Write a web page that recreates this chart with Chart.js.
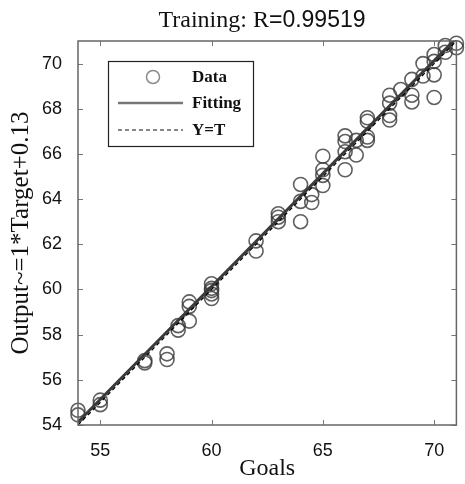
<!DOCTYPE html>
<html>
<head>
<meta charset="utf-8">
<script src="https://cdn.jsdelivr.net/npm/chart.js@4.4.1/dist/chart.umd.min.js"></script>
<style>
  html, body { margin: 0; padding: 0; background: #fff; }
  #wrap { width: 465px; height: 484px; position: relative; }
</style>
</head>
<body>
<div id="wrap"><canvas id="regChart"></canvas></div>
<script>
// Training targets vs network outputs
const targets = [
    54, 54, 55, 55, 57, 57, 58, 58, 58.5, 58.5,
    59, 59, 59, 60, 60, 60, 60, 60, 62, 62,
    63, 63, 63, 64, 64, 64, 64.5, 64.5, 65, 65,
    65, 65, 66, 66, 66, 66, 66.5, 66.5, 67, 67,
    67, 67, 68, 68, 68, 68, 68.5, 69, 69, 69,
    69.5, 69.5, 70, 70, 70, 70, 70.5, 70.5, 71, 71
];
const outputs = [
    54.65, 54.45, 55.1, 54.9, 56.85, 56.75, 57.15, 56.9, 58.2, 58.4,
    59.45, 59.25, 58.6, 60.25, 60.05, 59.95, 59.8, 59.6, 62.15, 61.7,
    63.35, 63.2, 63.0, 64.65, 63.9, 63.0, 63.85, 64.2, 65.9, 65.3,
    64.6, 65.05, 66.8, 66.55, 66.1, 65.3, 65.95, 66.6, 67.6, 67.45,
    66.6, 66.75, 68.6, 68.25, 67.5, 67.7, 68.85, 69.3, 68.6, 68.3,
    70.0, 69.45, 70.4, 70.1, 69.5, 68.5, 70.8, 70.5, 70.7, 70.9
];
// fitted line Output ~= 1*Target + 0.13, and the Y=T reference line
const fitX = [54, 71];
const fitY = [54.13, 71.13];
const idX = [54, 71];
const idY = [54, 71];

const xTicks = [55, 60, 65, 70];
const yTicks = [54, 56, 58, 60, 62, 64, 66, 68, 70];

const titleSerif = "Training: R";
const titleSans = "=0.99519";

const toPoints = (xs, ys) => xs.map((x, i) => ({ x: x, y: ys[i] }));

// title in two fonts, like the original figure
const titlePlugin = {
    id: "mixedTitle",
    afterDraw(chart) {
        const ctx = chart.ctx;
        ctx.save();
        const f1 = "24px 'Liberation Serif', 'Times New Roman', serif";
        const f2 = "23px 'Liberation Sans', Arial, sans-serif";
        ctx.font = f1;
        const w1 = ctx.measureText(titleSerif).width;
        ctx.font = f2;
        const w2 = ctx.measureText(titleSans).width;
        let x = 262 - (w1 + w2) / 2;
        ctx.fillStyle = "#111";
        ctx.textBaseline = "alphabetic";
        ctx.textAlign = "left";
        ctx.font = f1;
        ctx.fillText(titleSerif, x, 27);
        ctx.font = f2;
        ctx.fillText(titleSans, x + w1, 27);
        ctx.restore();
    }
};

// box around the axes and inward ticks on all four sides
const framePlugin = {
    id: "frame",
    afterDraw(chart) {
        const { ctx, chartArea: a, scales } = chart;
        ctx.save();
        ctx.strokeStyle = "#777";
        ctx.lineWidth = 1;
        ctx.beginPath();
        xTicks.forEach(v => {
            const px = Math.round(scales.x.getPixelForValue(v)) + 0.5;
            ctx.moveTo(px, a.bottom); ctx.lineTo(px, a.bottom - 5);
            ctx.moveTo(px, a.top); ctx.lineTo(px, a.top + 5);
        });
        yTicks.forEach(v => {
            const py = Math.round(scales.y.getPixelForValue(v)) + 0.5;
            ctx.moveTo(a.left, py); ctx.lineTo(a.left + 5, py);
            ctx.moveTo(a.right, py); ctx.lineTo(a.right - 5, py);
        });
        ctx.stroke();
        ctx.strokeStyle = "#666";
        ctx.lineWidth = 1.5;
        ctx.strokeRect(a.left, a.top, a.right - a.left, a.bottom - a.top);
        ctx.restore();
    }
};

// legend box inside the plot, top left
const legendPlugin = {
    id: "insideLegend",
    afterDraw(chart) {
        const ctx = chart.ctx;
        const ds = chart.data.datasets;
        ctx.save();
        ctx.fillStyle = "#fff";
        ctx.fillRect(108, 61, 145, 85);
        ctx.strokeStyle = "#222";
        ctx.lineWidth = 1.2;
        ctx.strokeRect(108.5, 61.5, 145, 85);

        const rows = [77, 103, 130];
        // Data marker
        ctx.beginPath();
        ctx.arc(153, rows[0], 6.5, 0, Math.PI * 2);
        ctx.strokeStyle = "rgba(90,90,90,0.7)";
        ctx.lineWidth = 1.5;
        ctx.stroke();
        // Fitting
        ctx.beginPath();
        ctx.moveTo(118, rows[1]); ctx.lineTo(183, rows[1]);
        ctx.strokeStyle = "#777";
        ctx.lineWidth = 2.5;
        ctx.stroke();
        // Y=T
        ctx.beginPath();
        ctx.setLineDash(ds[0].borderDash);
        ctx.moveTo(118, rows[2]); ctx.lineTo(183, rows[2]);
        ctx.strokeStyle = "#111";
        ctx.lineWidth = 1.2;
        ctx.stroke();
        ctx.setLineDash([]);

        ctx.fillStyle = "#111";
        ctx.font = "bold 17px 'Liberation Serif', 'Times New Roman', serif";
        ctx.textBaseline = "middle";
        ctx.textAlign = "left";
        ctx.fillText(ds[2].label, 192, rows[0] + 1);
        ctx.fillText(ds[1].label, 192, rows[1] + 1);
        ctx.fillText(ds[0].label, 192, rows[2] + 1);
        ctx.restore();
    }
};

document.addEventListener("DOMContentLoaded", () => {
    const ctx = document.getElementById("regChart").getContext("2d");
    new Chart(ctx, {
        type: "scatter",
        data: {
            datasets: [
                {
                    label: "Y=T",
                    data: toPoints(idX, idY),
                    showLine: true,
                    borderColor: "#000",
                    borderWidth: 1.3,
                    borderDash: [4, 3],
                    pointRadius: 0,
                    order: 0
                },
                {
                    label: "Fitting",
                    data: toPoints(fitX, fitY),
                    showLine: true,
                    borderColor: "#3a3a3a",
                    borderWidth: 3,
                    pointRadius: 0,
                    order: 1
                },
                {
                    label: "Data",
                    data: toPoints(targets, outputs),
                    pointStyle: "circle",
                    pointRadius: 7,
                    borderWidth: 1.6,
                    borderColor: "rgba(55,55,55,0.8)",
                    backgroundColor: "rgba(0,0,0,0)",
                    clip: false,
                    order: 2
                }
            ]
        },
        options: {
            responsive: true,
            maintainAspectRatio: false,
            animation: false,
            layout: { padding: { top: 41, right: 4, left: 0, bottom: 0 } },
            plugins: {
                legend: { display: false },
                tooltip: { enabled: false },
                title: { display: false }
            },
            scales: {
                x: {
                    type: "linear",
                    min: 54,
                    max: 71,
                    grid: { display: false },
                    border: { display: false },
                    afterBuildTicks: s => { s.ticks = xTicks.map(v => ({ value: v })); },
                    afterFit: s => { s.height = 59; },
                    ticks: {
                        padding: 7,
                        color: "#111",
                        font: { family: "'Liberation Sans', Arial, sans-serif", size: 18 }
                    },
                    title: {
                        display: true,
                        text: "Goals",
                        color: "#111",
                        padding: { top: 0, bottom: 1 },
                        font: { family: "'Liberation Serif', 'Times New Roman', serif", size: 24 }
                    }
                },
                y: {
                    type: "linear",
                    min: 54,
                    max: 71,
                    grid: { display: false },
                    border: { display: false },
                    afterBuildTicks: s => { s.ticks = yTicks.map(v => ({ value: v })); },
                    afterFit: s => { s.width = 78; },
                    ticks: {
                        padding: 8,
                        color: "#111",
                        font: { family: "'Liberation Sans', Arial, sans-serif", size: 18 }
                    },
                    title: {
                        display: true,
                        text: "Output~=1*Target+0.13",
                        color: "#111",
                        padding: { top: 6, bottom: 0 },
                        font: { family: "'Liberation Serif', 'Times New Roman', serif", size: 25 }
                    }
                }
            }
        },
        plugins: [titlePlugin, framePlugin, legendPlugin]
    });
});
</script>
</body>
</html>
